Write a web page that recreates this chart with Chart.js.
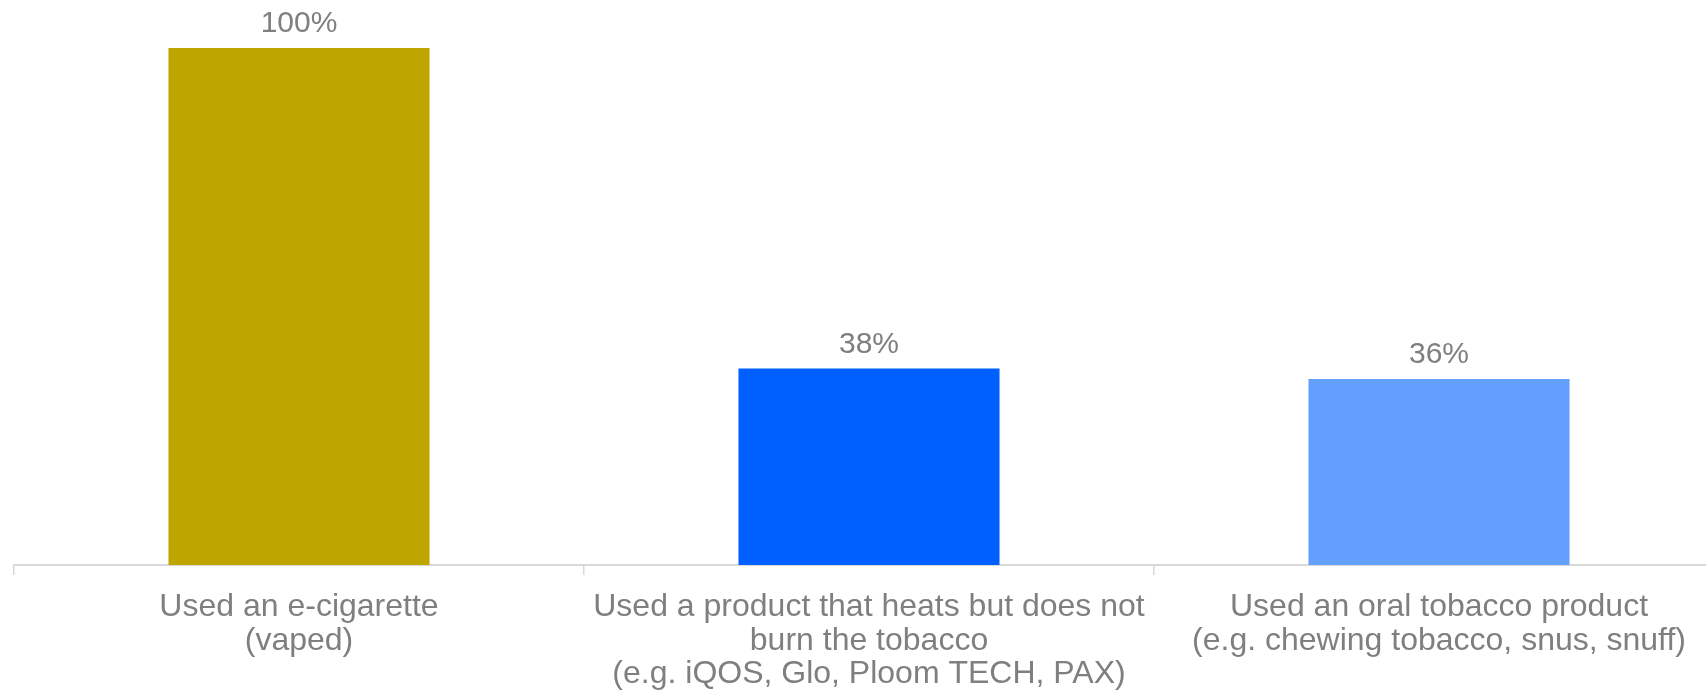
<!DOCTYPE html>
<html>
<head>
<meta charset="utf-8">
<script src="https://cdn.jsdelivr.net/npm/chart.js@4"></script>
<style>
    html, body { margin: 0; padding: 0; background: #ffffff; overflow: hidden; }
    /* the plot runs slightly past the right edge of the window, as in the original */
    #wrap { width: 1724px; height: 697px; position: relative; }
</style>
</head>
<body>
<div id="wrap"><canvas id="productChart"></canvas></div>
<script>
// Chart data
const categories = [
    ['Used an e-cigarette', '(vaped)'],
    ['Used a product that heats but does not', 'burn the tobacco', '(e.g. iQOS, Glo, Ploom TECH, PAX)'],
    ['Used an oral tobacco product', '(e.g. chewing tobacco, snus, snuff)']
];
const shareUsed = [100, 38, 36];
const barColors = ['#BFA500', '#005FFF', '#629FFF'];

const textGrey = '#7f7f7f';
const fontFamily = '"Liberation Sans", Arial, sans-serif';

// Draws the percentage above each bar
const valueLabels = {
    id: 'valueLabels',
    afterDatasetsDraw(chart) {
        const ctx = chart.ctx;
        const meta = chart.getDatasetMeta(0);
        ctx.save();
        ctx.font = '30px ' + fontFamily;
        ctx.fillStyle = textGrey;
        ctx.textAlign = 'center';
        ctx.textBaseline = 'middle';
        meta.data.forEach((bar, i) => {
            ctx.fillText(shareUsed[i] + '%', bar.x, bar.y - 24);
        });
        ctx.restore();
    }
};

new Chart(document.getElementById('productChart'), {
    type: 'bar',
    data: {
        labels: categories,
        datasets: [{
            data: shareUsed,
            backgroundColor: barColors,
            borderWidth: 0,
            barPercentage: 0.458,
            categoryPercentage: 1
        }]
    },
    options: {
        responsive: true,
        maintainAspectRatio: false,
        animation: false,
        layout: {
            padding: { top: 48, left: 14, right: 0, bottom: 0 }
        },
        plugins: {
            legend: { display: false },
            tooltip: { enabled: false }
        },
        scales: {
            x: {
                grid: {
                    drawOnChartArea: false,
                    drawTicks: true,
                    tickLength: 10,
                    color: '#d9d9d9',
                    lineWidth: 1.5
                },
                border: { display: true, color: '#d9d9d9', width: 2 },
                ticks: {
                    color: textGrey,
                    padding: 16,
                    maxRotation: 0,
                    autoSkip: false,
                    font: { family: fontFamily, size: 32, lineHeight: 1.04 }
                },
                afterFit(scale) {
                    scale.height = 132;
                }
            },
            y: {
                display: false,
                min: 0,
                max: 100
            }
        }
    },
    plugins: [valueLabels]
});
</script>
</body>
</html>
